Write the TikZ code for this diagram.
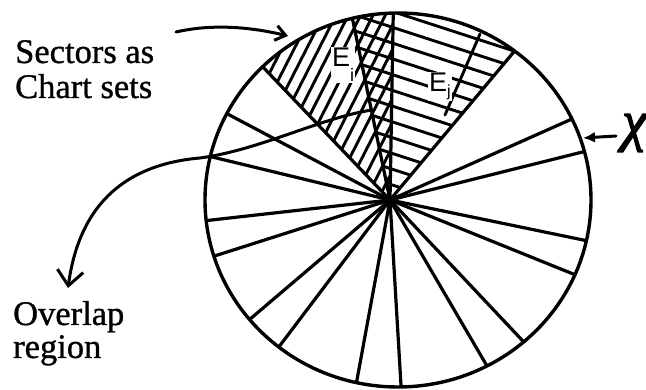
\documentclass[tikz,border=0pt]{standalone}
\usepackage{fontspec}
\setmainfont{Liberation Serif}
\newfontfamily\chartserif{Liberation Serif}[FakeBold=0.9]
\newfontfamily\chartsans{Liberation Sans}
\newfontfamily\chartchi{Liberation Serif}[FakeBold=2.5]
\usetikzlibrary{arrows.meta, calc}

\tikzset{
  rim/.style={line width=3.4pt},
  spoke/.style={line width=3.2pt, line cap=round},
  hatchline/.style={line width=2.9pt, line cap=round},
  callout/.style={line width=3pt, line cap=round},
  lbl/.style={font=\chartserif\fontsize{34.5}{35}\selectfont, align=left, inner sep=0pt},
  elbl/.style={font=\chartsans\fontsize{27}{27}\selectfont, fill=white, inner sep=1pt},
}

\begin{document}
\begin{tikzpicture}[x=1pt, y=1pt]
    \useasboundingbox (0,0) rectangle (646,390);
    \coordinate (hub) at (390,190);
    \coordinate (ctr) at (398,190);
    % E_i chart set
    \begin{scope}
        \clip (ctr) ellipse [x radius=193, y radius=187];
        \clip (hub) -- +(133.7:300) -- +(89:300) -- cycle;
        \foreach \k in {-19,...,19}
            \draw[hatchline] ($(hub)+(-27:{\k*11})$) ++(243:320) -- ++(63:640);
    \end{scope}
    % E_j chart set
    \begin{scope}
        \clip (ctr) ellipse [x radius=193, y radius=187];
        \clip (hub) -- +(101.7:300) -- +(50.1:300) -- cycle;
        \foreach \k in {1,...,12}
            \draw[hatchline] ($(hub)+(72:{\k*15})$) ++(162:320) -- ++(-18:640);
        \draw[hatchline] (480,356) -- (445,275);
    \end{scope}
    % sectors
    \begin{scope}
        \clip (ctr) ellipse [x radius=193, y radius=187];
        \foreach \a in {24,14,-11.7,-22,-46.7,-59.7,-86.6,-100.4,-127.1,
                        -139.6,-162.3,-173.6,166.4,152.1,133.7,101.7,89,50.1}
            \draw[spoke] (hub) -- ++(\a:260);
    \end{scope}
    \draw[rim] (ctr) ellipse [x radius=193, y radius=187];

    \node[elbl, anchor=base west] (ei) at (331,323)
        {E\raisebox{-15pt}{\fontsize{18}{18}\selectfont i}};
    \node[elbl, anchor=base west] (ej) at (428,298)
        {E\raisebox{-5pt}{\fontsize{16}{16}\selectfont j}};

    \node[lbl, anchor=base west] (sectors) at (15,292) {Sectors as\\Chart sets};
    \node[lbl, font=\chartserif\fontsize{34.5}{33}\selectfont, anchor=base west]
        (overlap) at (13,32) {Overlap\\region};
    \node[font=\chartchi\fontsize{56}{56}\selectfont\itshape, anchor=west, inner sep=0pt]
        (chi) at (622,257) {χ};

    % callouts
    \coordinate (secs) at (176,358);
    \coordinate (sect) at (288,354);
    \draw[callout, -{Straight Barb[length=10pt,width=15pt]}]
        (secs) .. controls (215,367) and (255,362) .. (sect);
    \coordinate (ovs) at (372,280);
    \coordinate (ovt) at (68,102);
    \draw[callout, -{Straight Barb[length=15pt,width=26pt]}]
        (ovs) .. controls (320,272) and (260,240) .. (200,232)
              .. controls (130,226) and (80,190) .. (ovt);
    \coordinate (chitail) at (616,254);
    \coordinate (chitip) at (583,252);
    \draw[callout, -{Latex[length=12pt,width=11pt]}] (chitail) -- (chitip);
\end{tikzpicture}
\end{document}
